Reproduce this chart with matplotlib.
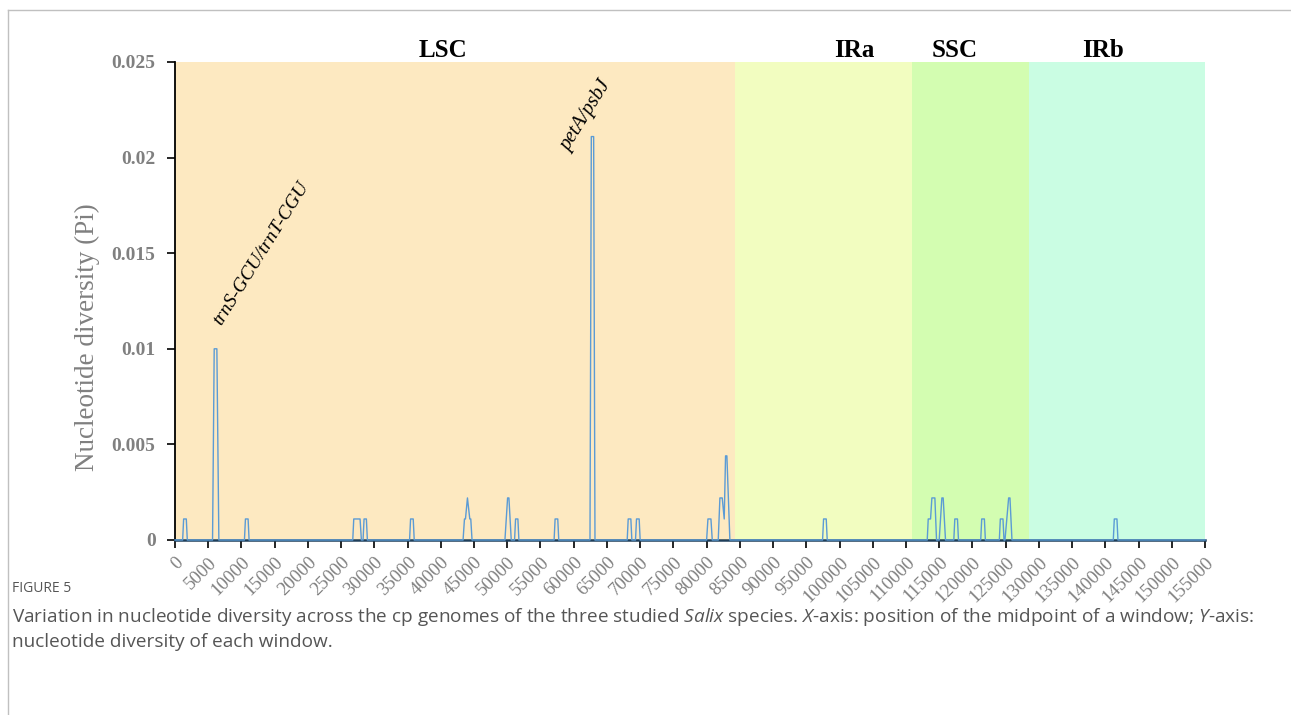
import matplotlib.pyplot as plt
from matplotlib.lines import Line2D

# Nucleotide diversity (Pi) across the cp genome
P = 0.0011
D = 0.0022
Q = 0.0044
window_mid = [0,
              1150, 1300, 1700, 1850,
              5650, 5900, 6300, 6600,
              10450, 10600, 11000, 11150,
              26750, 26900, 27850, 28050,
              28300, 28450, 28800, 28950,
              35300, 35450, 35850, 36000,
              43350, 43560, 43710, 44010, 44360, 44510, 44700,
              49650, 50050, 50250, 50600,
              51100, 51250, 51600, 51750,
              57050, 57200, 57600, 57750,
              62450, 62650, 63000, 63200,
              68050, 68200, 68600, 68750,
              69300, 69450, 69850, 70000,
              80000, 80200, 80650, 80850,
              81750, 82000, 82350, 82650, 82850, 83050, 83500,
              97450, 97600, 98000, 98150,
              113200, 113350, 113700, 113900, 114350, 114600,
              115000, 115400, 115600, 115950,
              117200, 117350, 117750, 117900,
              121250, 121400, 121800, 121950,
              124050, 124200, 124600, 124750,
              124900, 125450, 125650, 125950,
              141200, 141350, 141750, 141900,
              155000]
pi = [0,
      0, P, P, 0,
      0, 0.01, 0.01, 0,
      0, P, P, 0,
      0, P, P, 0,
      0, P, P, 0,
      0, P, P, 0,
      0, P, P, D, P, P, 0,
      0, D, D, 0,
      0, P, P, 0,
      0, P, P, 0,
      0, 0.0211, 0.0211, 0,
      0, P, P, 0,
      0, P, P, 0,
      0, P, P, 0,
      0, D, D, P, Q, Q, 0,
      0, P, P, 0,
      0, P, P, D, D, 0,
      0, D, D, 0,
      0, P, P, 0,
      0, P, P, 0,
      0, P, P, 0,
      0, D, D, 0,
      0, P, P, 0,
      0]

region_names = ['LSC', 'IRa', 'SSC', 'IRb']
region_edges = [0, 84260, 110850, 128500, 155000]
region_colors = ['#FDE9C1', '#F2FDC0', '#D3FDB1', '#CAFDE3']
region_label_x = [40300, 102300, 117400, 139600]

xticks = list(range(0, 155001, 5000))
yticks = [0, 0.005, 0.01, 0.015, 0.02, 0.025]
ytick_labels = ['0', '0.005', '0.01', '0.015', '0.02', '0.025']

serif = 'Liberation Serif'
grey = '#808080'
plt.rcParams['mathtext.fontset'] = 'custom'
plt.rcParams['mathtext.it'] = 'Open Sans:italic'
plt.rcParams['mathtext.rm'] = 'Open Sans'

fig = plt.figure(figsize=(12.91, 7.15), dpi=100)
ax = fig.add_axes([175 / 1291, 1 - 540 / 715, 1030 / 1291, 478 / 715])

for i in range(len(region_names)):
    ax.axvspan(region_edges[i], region_edges[i + 1], color=region_colors[i], lw=0, zorder=0)
    ax.text(region_label_x[i], 0.02558, region_names[i], ha='center', va='center',
            fontsize=18, fontweight='bold', family=serif, clip_on=False)

ax.plot(window_mid, pi, color='#5B9BD5', lw=1.0, zorder=3, clip_on=False)

ax.set_xlim(0, 155000)
ax.set_ylim(0, 0.025)
ax.set_xticks(xticks)
ax.set_xticklabels([str(t) for t in xticks], rotation=45, ha='right', va='top',
                   rotation_mode='anchor', fontsize=13.5, family=serif, color=grey)
ax.set_yticks(yticks)
ax.set_yticklabels(ytick_labels, fontsize=14, family=serif, color=grey, fontweight='bold')
ax.tick_params(axis='both', direction='out', length=6, width=1.2, color='black')
ax.tick_params(axis='x', pad=4)
ax.tick_params(axis='y', pad=8)
for s in ['top', 'right']:
    ax.spines[s].set_visible(False)
ax.spines['left'].set_linewidth(1.3)
ax.spines['bottom'].set_linewidth(1.8)
ax.spines['bottom'].set_color('#1F3F5A')
ax.set_ylabel('Nucleotide diversity (Pi)', fontsize=19.5, family=serif, color=grey)
ax.yaxis.set_label_coords(-0.073, 0.425)

ax.text(7000, 0.0112, 'trnS-GCU/trnT-CGU', rotation=58, rotation_mode='anchor',
        ha='left', va='baseline', fontsize=14, family=serif, style='italic')
ax.text(59300, 0.0203, 'petA/psbJ', rotation=58, rotation_mode='anchor',
        ha='left', va='baseline', fontsize=14.5, family=serif, style='italic')

# page frame and caption
fig.add_artist(Line2D([8 / 1291, 1], [1 - 10 / 715, 1 - 10 / 715], color='#C0C0C0', lw=1))
fig.add_artist(Line2D([8 / 1291, 8 / 1291], [0, 1 - 10 / 715], color='#C0C0C0', lw=1))
fig.text(12 / 1291, 1 - 588 / 715, 'FIGURE 5', fontsize=10, color='#555555',
         family='Open Sans', va='center')
fig.text(12 / 1291, 1 - 617 / 715,
         r'Variation in nucleotide diversity across the cp genomes of the three studied $\mathit{Salix}$ species. '
         r'$\mathit{X}$-axis: position of the midpoint of a window; $\mathit{Y}$-axis:',
         fontsize=13.7, color='#555555', family='Open Sans', va='center')
fig.text(12 / 1291, 1 - 642 / 715, 'nucleotide diversity of each window.',
         fontsize=13.7, color='#555555', family='Open Sans', va='center')

fig.savefig('out.png', dpi=100)
